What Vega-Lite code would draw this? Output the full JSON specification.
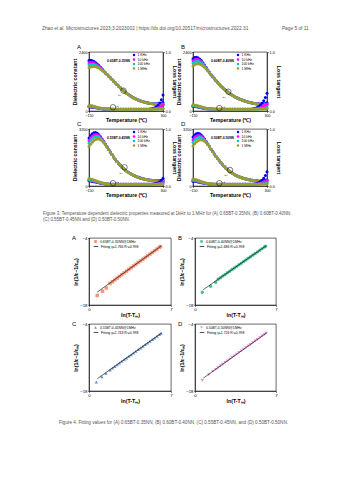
{
"$schema": "https://vega.github.io/schema/vega-lite/v6.json",
"background": "white",
"padding": {"left": 42, "top": 25, "right": 5, "bottom": 5},
"title": {"text": "Zhao et al. Microstructures 2023;3:2023002 | https://dx.doi.org/10.20517/microstructures.2022.31\u2003\u2003\u2003\u2003\u2003\u2003\u2003Page 5 of 11", "anchor": "start", "frame": "group", "dx": -47, "fontSize": 4.8, "color": "#555555", "offset": 13},
"config": {
  "font": "Liberation Sans",
  "view": {"stroke": "#000", "strokeWidth": 0.6},
  "axis": {"labelFontSize": 3.8, "titleFontSize": 5.2, "titleFontWeight": "bold", "tickSize": 1.5, "tickWidth": 0.5, "domainWidth": 0.6, "domainColor": "#000", "tickColor": "#000", "labelColor": "#000", "titleColor": "#000", "labelPadding": 0.5, "titlePadding": 0.8, "grid": false, "labelFont": "Liberation Sans", "titleFont": "Liberation Sans", "labelOverlap": false, "labelFlush": false, "labelSeparation": 0},
  "title": {"fontSize": 6, "fontWeight": "normal", "color": "#000", "font": "Liberation Sans"},
  "legend": {"labelFont": "Liberation Sans", "titleFont": "Liberation Sans", "labelColor": "#000", "titleColor": "#000"}
},
"datasets": {
"fk": [{"k":"a","fq":"1 KHz","r":1},{"k":"b","fq":"10 kHz","r":2},{"k":"c","fq":"100 kHz","r":3},{"k":"d","fq":"1 MHz","r":4},{"k":"e","fq":"1 KHz","r":1},{"k":"f","fq":"10 kHz","r":2},{"k":"g","fq":"100 kHz","r":3},{"k":"h","fq":"1 MHz","r":4}],
"t": [
{"p":"A","T":-150,"a":2050,"b":1960,"c":1870,"d":1760,"e":0.07,"f":0.075,"g":0.082,"h":0.095},
{"p":"A","T":-140,"a":2060,"b":1975,"c":1890,"d":1790,"e":0.068,"f":0.073,"g":0.079,"h":0.092},
{"p":"A","T":-130,"a":2045,"b":1970,"c":1895,"d":1805,"e":0.064,"f":0.069,"g":0.075,"h":0.087},
{"p":"A","T":-120,"a":2010,"b":1950,"c":1885,"d":1810,"e":0.06,"f":0.064,"g":0.069,"h":0.08},
{"p":"A","T":-110,"a":1965,"b":1915,"c":1860,"d":1800,"e":0.055,"f":0.058,"g":0.062,"h":0.072},
{"p":"A","T":-100,"a":1910,"b":1870,"c":1825,"d":1780,"e":0.05,"f":0.053,"g":0.056,"h":0.064},
{"p":"A","T":-90,"a":1850,"b":1815,"c":1780,"d":1745,"e":0.046,"f":0.048,"g":0.05,"h":0.057},
{"p":"A","T":-80,"a":1780,"b":1755,"c":1728,"d":1700,"e":0.042,"f":0.044,"g":0.046,"h":0.051},
{"p":"A","T":-70,"a":1705,"b":1687,"c":1670,"d":1650,"e":0.039,"f":0.04,"g":0.042,"h":0.046},
{"p":"A","T":-60,"a":1628,"b":1615,"c":1605,"d":1595,"e":0.036,"f":0.037,"g":0.038,"h":0.042},
{"p":"A","T":-50,"a":1555,"b":1548,"c":1543,"d":1538,"e":0.034,"f":0.035,"g":0.036,"h":0.039},
{"p":"A","T":-40,"a":1488,"b":1484,"c":1480,"d":1476,"e":0.033,"f":0.033,"g":0.034,"h":0.036},
{"p":"A","T":-30,"a":1420,"b":1416,"c":1413,"d":1410,"e":0.032,"f":0.032,"g":0.033,"h":0.034},
{"p":"A","T":-20,"a":1352,"b":1349,"c":1346,"d":1344,"e":0.031,"f":0.031,"g":0.032,"h":0.033},
{"p":"A","T":-10,"a":1284,"b":1282,"c":1280,"d":1278,"e":0.03,"f":0.03,"g":0.031,"h":0.032},
{"p":"A","T":0,"a":1216,"b":1214,"c":1212,"d":1210,"e":0.03,"f":0.03,"g":0.03,"h":0.031},
{"p":"A","T":10,"a":1148,"b":1146,"c":1144,"d":1142,"e":0.029,"f":0.029,"g":0.03,"h":0.031},
{"p":"A","T":20,"a":1080,"b":1078,"c":1076,"d":1074,"e":0.029,"f":0.029,"g":0.029,"h":0.03},
{"p":"A","T":30,"a":1014,"b":1012,"c":1011,"d":1009,"e":0.028,"f":0.029,"g":0.029,"h":0.03},
{"p":"A","T":40,"a":950,"b":948,"c":947,"d":945,"e":0.028,"f":0.028,"g":0.029,"h":0.03},
{"p":"A","T":50,"a":889,"b":887,"c":886,"d":884,"e":0.028,"f":0.028,"g":0.029,"h":0.03},
{"p":"A","T":60,"a":830,"b":828,"c":827,"d":825,"e":0.028,"f":0.028,"g":0.029,"h":0.03},
{"p":"A","T":70,"a":774,"b":772,"c":771,"d":769,"e":0.028,"f":0.028,"g":0.029,"h":0.03},
{"p":"A","T":80,"a":721,"b":719,"c":718,"d":716,"e":0.028,"f":0.028,"g":0.029,"h":0.03},
{"p":"A","T":90,"a":671,"b":669,"c":668,"d":666,"e":0.028,"f":0.028,"g":0.029,"h":0.03},
{"p":"A","T":100,"a":625,"b":623,"c":622,"d":620,"e":0.028,"f":0.028,"g":0.029,"h":0.03},
{"p":"A","T":110,"a":582,"b":580,"c":579,"d":577,"e":0.028,"f":0.028,"g":0.029,"h":0.03},
{"p":"A","T":120,"a":543,"b":541,"c":540,"d":538,"e":0.028,"f":0.028,"g":0.029,"h":0.03},
{"p":"A","T":130,"a":508,"b":506,"c":505,"d":503,"e":0.028,"f":0.028,"g":0.029,"h":0.03},
{"p":"A","T":140,"a":476,"b":474,"c":473,"d":471,"e":0.028,"f":0.028,"g":0.029,"h":0.03},
{"p":"A","T":150,"a":447,"b":445,"c":444,"d":442,"e":0.028,"f":0.028,"g":0.029,"h":0.03},
{"p":"A","T":160,"a":421,"b":419,"c":418,"d":416,"e":0.028,"f":0.028,"g":0.029,"h":0.03},
{"p":"A","T":170,"a":398,"b":396,"c":395,"d":393,"e":0.028,"f":0.028,"g":0.029,"h":0.03},
{"p":"A","T":180,"a":377,"b":375,"c":374,"d":372,"e":0.029,"f":0.028,"g":0.029,"h":0.03},
{"p":"A","T":190,"a":358,"b":356,"c":355,"d":353,"e":0.029,"f":0.029,"g":0.029,"h":0.03},
{"p":"A","T":200,"a":343,"b":340,"c":339,"d":337,"e":0.03,"f":0.029,"g":0.029,"h":0.03},
{"p":"A","T":210,"a":330,"b":326,"c":325,"d":323,"e":0.031,"f":0.03,"g":0.03,"h":0.031},
{"p":"A","T":220,"a":318,"b":314,"c":312,"d":310,"e":0.033,"f":0.031,"g":0.03,"h":0.031},
{"p":"A","T":230,"a":309,"b":303,"c":301,"d":299,"e":0.037,"f":0.032,"g":0.031,"h":0.031},
{"p":"A","T":240,"a":302,"b":294,"c":291,"d":289,"e":0.044,"f":0.034,"g":0.031,"h":0.031},
{"p":"A","T":250,"a":298,"b":287,"c":283,"d":281,"e":0.055,"f":0.037,"g":0.032,"h":0.031},
{"p":"A","T":260,"a":297,"b":282,"c":276,"d":274,"e":0.072,"f":0.042,"g":0.034,"h":0.032},
{"p":"A","T":270,"a":300,"b":279,"c":271,"d":268,"e":0.098,"f":0.05,"g":0.036,"h":0.032},
{"p":"A","T":280,"a":308,"b":278,"c":266,"d":263,"e":0.135,"f":0.062,"g":0.039,"h":0.033},
{"p":"A","T":290,"a":322,"b":280,"c":263,"d":259,"e":0.19,"f":0.08,"g":0.043,"h":0.034},
{"p":"A","T":300,"a":345,"b":285,"c":261,"d":256,"e":0.27,"f":0.105,"g":0.048,"h":0.035},
{"p":"B","T":-150,"a":2130,"b":2040,"c":1950,"d":1830,"e":0.08,"f":0.086,"g":0.093,"h":0.106},
{"p":"B","T":-140,"a":2175,"b":2085,"c":1995,"d":1880,"e":0.077,"f":0.083,"g":0.09,"h":0.102},
{"p":"B","T":-130,"a":2190,"b":2105,"c":2020,"d":1910,"e":0.072,"f":0.078,"g":0.085,"h":0.096},
{"p":"B","T":-120,"a":2170,"b":2095,"c":2020,"d":1920,"e":0.066,"f":0.071,"g":0.077,"h":0.088},
{"p":"B","T":-110,"a":2120,"b":2060,"c":1995,"d":1910,"e":0.06,"f":0.064,"g":0.069,"h":0.079},
{"p":"B","T":-100,"a":2050,"b":2005,"c":1955,"d":1880,"e":0.054,"f":0.057,"g":0.061,"h":0.07},
{"p":"B","T":-90,"a":1965,"b":1935,"c":1900,"d":1835,"e":0.049,"f":0.051,"g":0.054,"h":0.062},
{"p":"B","T":-80,"a":1870,"b":1850,"c":1828,"d":1775,"e":0.044,"f":0.046,"g":0.048,"h":0.055},
{"p":"B","T":-70,"a":1770,"b":1757,"c":1743,"d":1705,"e":0.04,"f":0.042,"g":0.043,"h":0.049},
{"p":"B","T":-60,"a":1668,"b":1660,"c":1652,"d":1630,"e":0.037,"f":0.038,"g":0.039,"h":0.044},
{"p":"B","T":-50,"a":1568,"b":1563,"c":1558,"d":1550,"e":0.035,"f":0.035,"g":0.036,"h":0.04},
{"p":"B","T":-40,"a":1477,"b":1474,"c":1471,"d":1468,"e":0.033,"f":0.033,"g":0.034,"h":0.037},
{"p":"B","T":-30,"a":1393,"b":1391,"c":1389,"d":1387,"e":0.032,"f":0.032,"g":0.033,"h":0.035},
{"p":"B","T":-20,"a":1313,"b":1311,"c":1310,"d":1308,"e":0.031,"f":0.031,"g":0.032,"h":0.033},
{"p":"B","T":-10,"a":1235,"b":1233,"c":1232,"d":1230,"e":0.03,"f":0.03,"g":0.031,"h":0.032},
{"p":"B","T":0,"a":1158,"b":1156,"c":1155,"d":1153,"e":0.029,"f":0.029,"g":0.03,"h":0.031},
{"p":"B","T":10,"a":1085,"b":1083,"c":1082,"d":1080,"e":0.029,"f":0.029,"g":0.03,"h":0.031},
{"p":"B","T":20,"a":1015,"b":1013,"c":1012,"d":1010,"e":0.029,"f":0.029,"g":0.03,"h":0.031},
{"p":"B","T":30,"a":950,"b":948,"c":947,"d":945,"e":0.029,"f":0.029,"g":0.03,"h":0.031},
{"p":"B","T":40,"a":890,"b":888,"c":887,"d":885,"e":0.029,"f":0.029,"g":0.03,"h":0.031},
{"p":"B","T":50,"a":832,"b":830,"c":829,"d":827,"e":0.029,"f":0.029,"g":0.03,"h":0.031},
{"p":"B","T":60,"a":778,"b":776,"c":775,"d":773,"e":0.029,"f":0.029,"g":0.03,"h":0.031},
{"p":"B","T":70,"a":728,"b":726,"c":725,"d":723,"e":0.029,"f":0.029,"g":0.03,"h":0.031},
{"p":"B","T":80,"a":682,"b":680,"c":679,"d":677,"e":0.029,"f":0.029,"g":0.03,"h":0.031},
{"p":"B","T":90,"a":640,"b":638,"c":637,"d":635,"e":0.029,"f":0.029,"g":0.03,"h":0.031},
{"p":"B","T":100,"a":600,"b":598,"c":597,"d":595,"e":0.029,"f":0.029,"g":0.03,"h":0.031},
{"p":"B","T":110,"a":563,"b":561,"c":560,"d":558,"e":0.029,"f":0.029,"g":0.03,"h":0.031},
{"p":"B","T":120,"a":529,"b":527,"c":526,"d":524,"e":0.029,"f":0.029,"g":0.03,"h":0.031},
{"p":"B","T":130,"a":498,"b":496,"c":495,"d":493,"e":0.029,"f":0.029,"g":0.03,"h":0.031},
{"p":"B","T":140,"a":469,"b":467,"c":466,"d":464,"e":0.029,"f":0.029,"g":0.03,"h":0.031},
{"p":"B","T":150,"a":443,"b":441,"c":440,"d":438,"e":0.029,"f":0.029,"g":0.03,"h":0.031},
{"p":"B","T":160,"a":419,"b":417,"c":416,"d":414,"e":0.029,"f":0.029,"g":0.03,"h":0.031},
{"p":"B","T":170,"a":397,"b":395,"c":394,"d":392,"e":0.029,"f":0.029,"g":0.03,"h":0.031},
{"p":"B","T":180,"a":377,"b":375,"c":374,"d":372,"e":0.029,"f":0.029,"g":0.03,"h":0.031},
{"p":"B","T":190,"a":359,"b":357,"c":356,"d":354,"e":0.03,"f":0.029,"g":0.03,"h":0.031},
{"p":"B","T":200,"a":343,"b":340,"c":339,"d":337,"e":0.031,"f":0.03,"g":0.03,"h":0.031},
{"p":"B","T":210,"a":328,"b":325,"c":324,"d":322,"e":0.034,"f":0.031,"g":0.03,"h":0.031},
{"p":"B","T":220,"a":315,"b":311,"c":310,"d":308,"e":0.039,"f":0.033,"g":0.031,"h":0.031},
{"p":"B","T":230,"a":304,"b":298,"c":297,"d":295,"e":0.047,"f":0.035,"g":0.032,"h":0.031},
{"p":"B","T":240,"a":295,"b":287,"c":285,"d":283,"e":0.059,"f":0.039,"g":0.033,"h":0.032},
{"p":"B","T":250,"a":290,"b":278,"c":275,"d":273,"e":0.076,"f":0.045,"g":0.035,"h":0.032},
{"p":"B","T":260,"a":288,"b":271,"c":266,"d":264,"e":0.1,"f":0.053,"g":0.037,"h":0.033},
{"p":"B","T":270,"a":290,"b":266,"c":259,"d":256,"e":0.132,"f":0.064,"g":0.04,"h":0.034},
{"p":"B","T":280,"a":297,"b":263,"c":253,"d":250,"e":0.175,"f":0.078,"g":0.044,"h":0.035},
{"p":"B","T":290,"a":310,"b":263,"c":249,"d":245,"e":0.23,"f":0.097,"g":0.049,"h":0.036},
{"p":"B","T":300,"a":332,"b":266,"c":246,"d":241,"e":0.3,"f":0.12,"g":0.055,"h":0.038},
{"p":"C","T":-150,"a":2700,"b":2560,"c":2420,"d":2220,"e":0.09,"f":0.1,"g":0.112,"h":0.13},
{"p":"C","T":-140,"a":2830,"b":2690,"c":2550,"d":2350,"e":0.086,"f":0.096,"g":0.107,"h":0.125},
{"p":"C","T":-130,"a":2930,"b":2790,"c":2660,"d":2460,"e":0.081,"f":0.09,"g":0.1,"h":0.117},
{"p":"C","T":-120,"a":2990,"b":2860,"c":2730,"d":2550,"e":0.075,"f":0.083,"g":0.092,"h":0.107},
{"p":"C","T":-110,"a":3000,"b":2890,"c":2770,"d":2610,"e":0.068,"f":0.075,"g":0.083,"h":0.096},
{"p":"C","T":-100,"a":2960,"b":2875,"c":2780,"d":2640,"e":0.061,"f":0.067,"g":0.073,"h":0.085},
{"p":"C","T":-90,"a":2880,"b":2820,"c":2750,"d":2640,"e":0.055,"f":0.06,"g":0.065,"h":0.075},
{"p":"C","T":-80,"a":2770,"b":2730,"c":2680,"d":2600,"e":0.049,"f":0.053,"g":0.057,"h":0.065},
{"p":"C","T":-70,"a":2640,"b":2615,"c":2585,"d":2530,"e":0.044,"f":0.047,"g":0.05,"h":0.057},
{"p":"C","T":-60,"a":2500,"b":2485,"c":2468,"d":2435,"e":0.04,"f":0.042,"g":0.044,"h":0.05},
{"p":"C","T":-50,"a":2350,"b":2342,"c":2333,"d":2315,"e":0.037,"f":0.038,"g":0.04,"h":0.044},
{"p":"C","T":-40,"a":2200,"b":2195,"c":2190,"d":2180,"e":0.034,"f":0.035,"g":0.036,"h":0.04},
{"p":"C","T":-30,"a":2050,"b":2047,"c":2044,"d":2040,"e":0.032,"f":0.033,"g":0.034,"h":0.036},
{"p":"C","T":-20,"a":1905,"b":1903,"c":1901,"d":1899,"e":0.031,"f":0.031,"g":0.032,"h":0.034},
{"p":"C","T":-10,"a":1765,"b":1763,"c":1762,"d":1760,"e":0.03,"f":0.03,"g":0.031,"h":0.032},
{"p":"C","T":0,"a":1630,"b":1628,"c":1627,"d":1625,"e":0.029,"f":0.029,"g":0.03,"h":0.031},
{"p":"C","T":10,"a":1502,"b":1500,"c":1499,"d":1497,"e":0.029,"f":0.029,"g":0.03,"h":0.031},
{"p":"C","T":20,"a":1382,"b":1380,"c":1379,"d":1377,"e":0.029,"f":0.029,"g":0.03,"h":0.031},
{"p":"C","T":30,"a":1270,"b":1268,"c":1267,"d":1265,"e":0.029,"f":0.029,"g":0.03,"h":0.031},
{"p":"C","T":40,"a":1166,"b":1164,"c":1163,"d":1161,"e":0.029,"f":0.029,"g":0.03,"h":0.031},
{"p":"C","T":50,"a":1070,"b":1068,"c":1067,"d":1065,"e":0.029,"f":0.029,"g":0.03,"h":0.031},
{"p":"C","T":60,"a":982,"b":980,"c":979,"d":977,"e":0.029,"f":0.029,"g":0.03,"h":0.031},
{"p":"C","T":70,"a":902,"b":900,"c":899,"d":897,"e":0.029,"f":0.029,"g":0.03,"h":0.031},
{"p":"C","T":80,"a":830,"b":828,"c":827,"d":825,"e":0.029,"f":0.029,"g":0.03,"h":0.031},
{"p":"C","T":90,"a":765,"b":763,"c":762,"d":760,"e":0.029,"f":0.029,"g":0.03,"h":0.031},
{"p":"C","T":100,"a":706,"b":704,"c":703,"d":701,"e":0.029,"f":0.029,"g":0.03,"h":0.031},
{"p":"C","T":110,"a":653,"b":651,"c":650,"d":648,"e":0.029,"f":0.029,"g":0.03,"h":0.031},
{"p":"C","T":120,"a":605,"b":603,"c":602,"d":600,"e":0.029,"f":0.029,"g":0.03,"h":0.031},
{"p":"C","T":130,"a":562,"b":560,"c":559,"d":557,"e":0.029,"f":0.029,"g":0.03,"h":0.031},
{"p":"C","T":140,"a":523,"b":521,"c":520,"d":518,"e":0.029,"f":0.029,"g":0.03,"h":0.031},
{"p":"C","T":150,"a":488,"b":486,"c":485,"d":483,"e":0.029,"f":0.029,"g":0.03,"h":0.031},
{"p":"C","T":160,"a":457,"b":455,"c":454,"d":452,"e":0.029,"f":0.029,"g":0.03,"h":0.031},
{"p":"C","T":170,"a":429,"b":427,"c":426,"d":424,"e":0.029,"f":0.029,"g":0.03,"h":0.031},
{"p":"C","T":180,"a":404,"b":402,"c":401,"d":399,"e":0.029,"f":0.029,"g":0.03,"h":0.031},
{"p":"C","T":190,"a":382,"b":380,"c":379,"d":377,"e":0.029,"f":0.029,"g":0.03,"h":0.031},
{"p":"C","T":200,"a":362,"b":360,"c":359,"d":357,"e":0.029,"f":0.029,"g":0.03,"h":0.031},
{"p":"C","T":210,"a":345,"b":342,"c":341,"d":339,"e":0.029,"f":0.029,"g":0.03,"h":0.031},
{"p":"C","T":220,"a":330,"b":326,"c":325,"d":323,"e":0.03,"f":0.029,"g":0.03,"h":0.031},
{"p":"C","T":230,"a":318,"b":313,"c":311,"d":309,"e":0.031,"f":0.03,"g":0.03,"h":0.031},
{"p":"C","T":240,"a":308,"b":301,"c":299,"d":297,"e":0.034,"f":0.031,"g":0.031,"h":0.031},
{"p":"C","T":250,"a":301,"b":291,"c":288,"d":286,"e":0.039,"f":0.033,"g":0.031,"h":0.031},
{"p":"C","T":260,"a":297,"b":283,"c":279,"d":277,"e":0.047,"f":0.036,"g":0.032,"h":0.032},
{"p":"C","T":270,"a":296,"b":277,"c":271,"d":269,"e":0.059,"f":0.04,"g":0.033,"h":0.032},
{"p":"C","T":280,"a":299,"b":273,"c":265,"d":262,"e":0.076,"f":0.046,"g":0.035,"h":0.033},
{"p":"C","T":290,"a":306,"b":271,"c":260,"d":256,"e":0.1,"f":0.054,"g":0.037,"h":0.033},
{"p":"C","T":300,"a":318,"b":271,"c":256,"d":251,"e":0.135,"f":0.065,"g":0.04,"h":0.034},
{"p":"D","T":-150,"a":2750,"b":2600,"c":2450,"d":2250,"e":0.085,"f":0.095,"g":0.106,"h":0.122},
{"p":"D","T":-140,"a":2870,"b":2720,"c":2580,"d":2370,"e":0.082,"f":0.091,"g":0.101,"h":0.117},
{"p":"D","T":-130,"a":2940,"b":2800,"c":2665,"d":2470,"e":0.077,"f":0.086,"g":0.095,"h":0.11},
{"p":"D","T":-120,"a":2960,"b":2840,"c":2715,"d":2540,"e":0.071,"f":0.079,"g":0.087,"h":0.1},
{"p":"D","T":-110,"a":2930,"b":2835,"c":2730,"d":2580,"e":0.065,"f":0.071,"g":0.078,"h":0.09},
{"p":"D","T":-100,"a":2860,"b":2790,"c":2710,"d":2590,"e":0.058,"f":0.064,"g":0.069,"h":0.08},
{"p":"D","T":-90,"a":2760,"b":2710,"c":2655,"d":2565,"e":0.052,"f":0.057,"g":0.061,"h":0.07},
{"p":"D","T":-80,"a":2640,"b":2608,"c":2575,"d":2510,"e":0.047,"f":0.05,"g":0.054,"h":0.062},
{"p":"D","T":-70,"a":2505,"b":2487,"c":2468,"d":2425,"e":0.042,"f":0.045,"g":0.048,"h":0.054},
{"p":"D","T":-60,"a":2362,"b":2352,"c":2342,"d":2318,"e":0.039,"f":0.041,"g":0.043,"h":0.048},
{"p":"D","T":-50,"a":2215,"b":2210,"c":2205,"d":2193,"e":0.036,"f":0.037,"g":0.039,"h":0.043},
{"p":"D","T":-40,"a":2070,"b":2067,"c":2064,"d":2058,"e":0.034,"f":0.035,"g":0.036,"h":0.039},
{"p":"D","T":-30,"a":1930,"b":1928,"c":1926,"d":1922,"e":0.032,"f":0.033,"g":0.034,"h":0.036},
{"p":"D","T":-20,"a":1795,"b":1793,"c":1792,"d":1789,"e":0.031,"f":0.031,"g":0.032,"h":0.034},
{"p":"D","T":-10,"a":1665,"b":1663,"c":1662,"d":1660,"e":0.03,"f":0.03,"g":0.031,"h":0.032},
{"p":"D","T":0,"a":1540,"b":1538,"c":1537,"d":1535,"e":0.029,"f":0.029,"g":0.03,"h":0.031},
{"p":"D","T":10,"a":1420,"b":1418,"c":1417,"d":1415,"e":0.029,"f":0.029,"g":0.03,"h":0.031},
{"p":"D","T":20,"a":1307,"b":1305,"c":1304,"d":1302,"e":0.029,"f":0.029,"g":0.03,"h":0.031},
{"p":"D","T":30,"a":1200,"b":1198,"c":1197,"d":1195,"e":0.029,"f":0.029,"g":0.03,"h":0.031},
{"p":"D","T":40,"a":1100,"b":1098,"c":1097,"d":1095,"e":0.029,"f":0.029,"g":0.03,"h":0.031},
{"p":"D","T":50,"a":1008,"b":1006,"c":1005,"d":1003,"e":0.029,"f":0.029,"g":0.03,"h":0.031},
{"p":"D","T":60,"a":924,"b":922,"c":921,"d":919,"e":0.029,"f":0.029,"g":0.03,"h":0.031},
{"p":"D","T":70,"a":847,"b":845,"c":844,"d":842,"e":0.029,"f":0.029,"g":0.03,"h":0.031},
{"p":"D","T":80,"a":778,"b":776,"c":775,"d":773,"e":0.029,"f":0.029,"g":0.03,"h":0.031},
{"p":"D","T":90,"a":716,"b":714,"c":713,"d":711,"e":0.029,"f":0.029,"g":0.03,"h":0.031},
{"p":"D","T":100,"a":660,"b":658,"c":657,"d":655,"e":0.029,"f":0.029,"g":0.03,"h":0.031},
{"p":"D","T":110,"a":610,"b":608,"c":607,"d":605,"e":0.029,"f":0.029,"g":0.03,"h":0.031},
{"p":"D","T":120,"a":565,"b":563,"c":562,"d":560,"e":0.029,"f":0.029,"g":0.03,"h":0.031},
{"p":"D","T":130,"a":525,"b":523,"c":522,"d":520,"e":0.029,"f":0.029,"g":0.03,"h":0.031},
{"p":"D","T":140,"a":489,"b":487,"c":486,"d":484,"e":0.029,"f":0.029,"g":0.03,"h":0.031},
{"p":"D","T":150,"a":457,"b":455,"c":454,"d":452,"e":0.029,"f":0.029,"g":0.03,"h":0.031},
{"p":"D","T":160,"a":428,"b":426,"c":425,"d":423,"e":0.029,"f":0.029,"g":0.03,"h":0.031},
{"p":"D","T":170,"a":402,"b":400,"c":399,"d":397,"e":0.029,"f":0.029,"g":0.03,"h":0.031},
{"p":"D","T":180,"a":379,"b":377,"c":376,"d":374,"e":0.029,"f":0.029,"g":0.03,"h":0.031},
{"p":"D","T":190,"a":358,"b":356,"c":355,"d":353,"e":0.029,"f":0.029,"g":0.03,"h":0.031},
{"p":"D","T":200,"a":340,"b":338,"c":337,"d":335,"e":0.029,"f":0.029,"g":0.03,"h":0.031},
{"p":"D","T":210,"a":324,"b":321,"c":320,"d":318,"e":0.031,"f":0.03,"g":0.03,"h":0.031},
{"p":"D","T":220,"a":310,"b":306,"c":305,"d":303,"e":0.034,"f":0.031,"g":0.031,"h":0.031},
{"p":"D","T":230,"a":299,"b":293,"c":292,"d":290,"e":0.039,"f":0.033,"g":0.031,"h":0.031},
{"p":"D","T":240,"a":291,"b":282,"c":280,"d":278,"e":0.047,"f":0.036,"g":0.032,"h":0.032},
{"p":"D","T":250,"a":287,"b":273,"c":269,"d":267,"e":0.06,"f":0.04,"g":0.033,"h":0.032},
{"p":"D","T":260,"a":287,"b":266,"c":260,"d":258,"e":0.078,"f":0.047,"g":0.035,"h":0.033},
{"p":"D","T":270,"a":291,"b":261,"c":252,"d":249,"e":0.103,"f":0.056,"g":0.037,"h":0.033},
{"p":"D","T":280,"a":300,"b":259,"c":246,"d":242,"e":0.138,"f":0.068,"g":0.04,"h":0.034},
{"p":"D","T":290,"a":316,"b":260,"c":242,"d":236,"e":0.185,"f":0.083,"g":0.044,"h":0.035},
{"p":"D","T":300,"a":340,"b":264,"c":239,"d":231,"e":0.25,"f":0.102,"g":0.049,"h":0.036}
],
"n": [
{"p":"A","x":0.7,"y":-16.0},{"p":"A","x":1.15,"y":-15.1},{"p":"A","x":1.48,"y":-14.45},{"p":"A","x":1.8,"y":-13.5},{"p":"A","x":2.0,"y":-13.15},{"p":"A","x":2.2,"y":-12.78},{"p":"A","x":2.4,"y":-12.4},{"p":"A","x":2.6,"y":-12.02},{"p":"A","x":2.8,"y":-11.65},{"p":"A","x":3.0,"y":-11.28},{"p":"A","x":3.2,"y":-10.92},{"p":"A","x":3.4,"y":-10.56},{"p":"A","x":3.6,"y":-10.2},{"p":"A","x":3.8,"y":-9.84},{"p":"A","x":4.0,"y":-9.49},{"p":"A","x":4.2,"y":-9.13},{"p":"A","x":4.4,"y":-8.78},{"p":"A","x":4.6,"y":-8.43},{"p":"A","x":4.8,"y":-8.07},{"p":"A","x":5.0,"y":-7.72},{"p":"A","x":5.2,"y":-7.37},{"p":"A","x":5.4,"y":-7.01},{"p":"A","x":5.6,"y":-6.66},{"p":"A","x":5.8,"y":-6.31},{"p":"A","x":6.0,"y":-5.95},{"p":"A","x":6.1,"y":-5.78},
{"p":"B","x":0.63,"y":-15.35},{"p":"B","x":1.35,"y":-14.1},{"p":"B","x":1.79,"y":-13.26},{"p":"B","x":2.0,"y":-12.63},{"p":"B","x":2.2,"y":-12.29},{"p":"B","x":2.4,"y":-11.95},{"p":"B","x":2.6,"y":-11.62},{"p":"B","x":2.8,"y":-11.28},{"p":"B","x":3.0,"y":-10.94},{"p":"B","x":3.2,"y":-10.6},{"p":"B","x":3.4,"y":-10.27},{"p":"B","x":3.6,"y":-9.93},{"p":"B","x":3.8,"y":-9.59},{"p":"B","x":4.0,"y":-9.26},{"p":"B","x":4.2,"y":-8.92},{"p":"B","x":4.4,"y":-8.58},{"p":"B","x":4.6,"y":-8.24},{"p":"B","x":4.8,"y":-7.91},{"p":"B","x":5.0,"y":-7.57},{"p":"B","x":5.2,"y":-7.23},{"p":"B","x":5.4,"y":-6.9},{"p":"B","x":5.6,"y":-6.56},{"p":"B","x":5.8,"y":-6.22},{"p":"B","x":6.0,"y":-5.88},{"p":"B","x":6.1,"y":-5.72},
{"p":"C","x":0.63,"y":-16.1},{"p":"C","x":1.1,"y":-15.0},{"p":"C","x":1.45,"y":-14.3},{"p":"C","x":1.8,"y":-13.6},{"p":"C","x":2.0,"y":-13.22},{"p":"C","x":2.2,"y":-12.86},{"p":"C","x":2.4,"y":-12.5},{"p":"C","x":2.6,"y":-12.14},{"p":"C","x":2.8,"y":-11.79},{"p":"C","x":3.0,"y":-11.44},{"p":"C","x":3.2,"y":-11.09},{"p":"C","x":3.4,"y":-10.74},{"p":"C","x":3.6,"y":-10.4},{"p":"C","x":3.8,"y":-10.05},{"p":"C","x":4.0,"y":-9.7},{"p":"C","x":4.2,"y":-9.35},{"p":"C","x":4.4,"y":-9.0},{"p":"C","x":4.6,"y":-8.65},{"p":"C","x":4.8,"y":-8.3},{"p":"C","x":5.0,"y":-7.96},{"p":"C","x":5.2,"y":-7.61},{"p":"C","x":5.4,"y":-7.26},{"p":"C","x":5.6,"y":-6.91},{"p":"C","x":5.8,"y":-6.56},{"p":"C","x":6.0,"y":-6.21},{"p":"C","x":6.15,"y":-5.95},
{"p":"D","x":0.63,"y":-15.8},{"p":"D","x":1.2,"y":-14.6},{"p":"D","x":1.55,"y":-13.9},{"p":"D","x":1.8,"y":-13.5},{"p":"D","x":2.0,"y":-13.12},{"p":"D","x":2.2,"y":-12.76},{"p":"D","x":2.4,"y":-12.4},{"p":"D","x":2.6,"y":-12.05},{"p":"D","x":2.8,"y":-11.71},{"p":"D","x":3.0,"y":-11.36},{"p":"D","x":3.2,"y":-11.02},{"p":"D","x":3.4,"y":-10.67},{"p":"D","x":3.6,"y":-10.33},{"p":"D","x":3.8,"y":-9.98},{"p":"D","x":4.0,"y":-9.64},{"p":"D","x":4.2,"y":-9.29},{"p":"D","x":4.4,"y":-8.95},{"p":"D","x":4.6,"y":-8.6},{"p":"D","x":4.8,"y":-8.26},{"p":"D","x":5.0,"y":-7.91},{"p":"D","x":5.2,"y":-7.57},{"p":"D","x":5.4,"y":-7.22},{"p":"D","x":5.6,"y":-6.87},{"p":"D","x":5.8,"y":-6.53},{"p":"D","x":6.0,"y":-6.18},{"p":"D","x":6.15,"y":-5.93}
],
"fit": [
{"p":"A","x":0.7,"y":-15.31},{"p":"A","x":6.15,"y":-5.69},
{"p":"B","x":0.72,"y":-14.79},{"p":"B","x":6.15,"y":-5.63},
{"p":"C","x":0.71,"y":-15.43},{"p":"C","x":6.2,"y":-5.86},
{"p":"D","x":0.72,"y":-15.3},{"p":"D","x":6.2,"y":-5.84}
]
},
"spacing": 12,
"resolve": {"scale": {"color": "independent", "fill": "independent", "stroke": "independent"}, "legend": {"color": "independent", "fill": "independent", "stroke": "independent"}},
"vconcat": [
{
 "columns": 2,
 "bounds": "flush",
 "spacing": {"row": 18, "column": 30},
 "title": {"text": ["Figure 3. Temperature dependent dielectric properties measured at 1kHz to 1 MHz for (A) 0.65BT-0.35NN, (B) 0.60BT-0.40NN,", "(C) 0.55BT-0.45NN and (D) 0.50BT-0.50NN."], "orient": "bottom", "anchor": "start", "frame": "group", "dx": -46, "offset": 13, "fontSize": 4.45, "color": "#555555", "lineHeight": 6},
 "resolve": {"scale": {"color": "independent"}, "legend": {"color": "independent"}},
 "concat": [
  {"width": 74, "height": 59,
   "title": {"text": "A", "anchor": "start", "frame": "group", "dx": -12, "offset": 0},
   "resolve": {"scale": {"y": "independent"}},
   "layer": [
    {"layer": [
     {"data": {"name": "t"}, "transform": [{"filter": "datum.p==='A'"}, {"fold": ["a","b","c","d"], "as": ["k","v"]}, {"lookup": "k", "from": {"data": {"name": "fk"}, "key": "k", "fields": ["fq","r"]}}],
      "mark": {"type": "point", "filled": true, "size": 9, "opacity": 1, "strokeWidth": 0},
      "encoding": {
       "x": {"field": "T", "type": "quantitative", "scale": {"domain": [-150,300], "nice": false}, "axis": {"values": [-150,-100,-50,0,50,100,150,200,250,300], "title": "Temperature (℃)", "labelFontSize": 3.6, "labelOverlap": false}},
       "y": {"field": "v", "type": "quantitative", "scale": {"domain": [0,2400], "nice": false}, "axis": {"orient": "left", "values": [0,400,800,1200,1600,2000,2400], "format": "d", "title": "Dielectric constant", "labelOverlap": false}},
       "color": {"field": "fq", "type": "nominal", "title": "0.65BT-0.35NN", "scale": {"domain": ["1 KHz","10 kHz","100 kHz","1 MHz"], "range": ["#0000ff","#ff00ff","#00c8c8","#9c9c30"]}, "legend": {"orient": "none", "legendX": 18, "legendY": 1, "titleOrient": "left", "titleFontSize": 3.3, "titleFontWeight": "bold", "labelFontSize": 3.4, "symbolSize": 6, "rowPadding": 0.5, "titlePadding": 2, "labelOffset": 1.5, "padding": 0}},
       "order": {"field": "r", "type": "quantitative"}
      }},
     {"data": {"values": [{"T": 60, "v": 826}]}, "mark": {"type": "point", "shape": "circle", "filled": false, "size": 30, "stroke": "#000", "strokeWidth": 0.5, "opacity": 1}, "encoding": {"x": {"field": "T", "type": "quantitative"}, "y": {"field": "v", "type": "quantitative"}}},
     {"data": {"values": [{"T": 36, "v": 690, "s": "←"}]}, "mark": {"type": "text", "fontSize": 5, "color": "#000"}, "encoding": {"x": {"field": "T", "type": "quantitative"}, "y": {"field": "v", "type": "quantitative"}, "text": {"field": "s"}}}
    ]},
    {"layer": [
     {"data": {"name": "t"}, "transform": [{"filter": "datum.p==='A'"}, {"fold": ["e","f","g","h"], "as": ["k","v"]}, {"lookup": "k", "from": {"data": {"name": "fk"}, "key": "k", "fields": ["fq","r"]}}],
      "mark": {"type": "point", "filled": true, "size": 9, "opacity": 1, "strokeWidth": 0},
      "encoding": {
       "x": {"field": "T", "type": "quantitative"},
       "y": {"field": "v", "type": "quantitative", "scale": {"domain": [0,1], "nice": false}, "axis": {"orient": "right", "values": [0,0.2,0.4,0.6,0.8,1], "format": ".1f", "title": "Loss tangent", "labelOverlap": false}},
       "color": {"field": "fq", "type": "nominal", "title": "0.65BT-0.35NN"},
       "order": {"field": "r", "type": "quantitative"}
      }},
     {"data": {"values": [{"T": -4, "v": 0.063}]}, "mark": {"type": "point", "shape": "circle", "filled": false, "size": 30, "stroke": "#000", "strokeWidth": 0.5, "opacity": 1}, "encoding": {"x": {"field": "T", "type": "quantitative"}, "y": {"field": "v", "type": "quantitative"}}},
     {"data": {"values": [{"T": 20, "v": 0.1, "s": "→"}]}, "mark": {"type": "text", "fontSize": 5, "color": "#000"}, "encoding": {"x": {"field": "T", "type": "quantitative"}, "y": {"field": "v", "type": "quantitative"}, "text": {"field": "s"}}}
    ]}
   ]},
  {"width": 74, "height": 59,
   "title": {"text": "B", "anchor": "start", "frame": "group", "dx": -12, "offset": 0},
   "resolve": {"scale": {"y": "independent"}},
   "layer": [
    {"layer": [
     {"data": {"name": "t"}, "transform": [{"filter": "datum.p==='B'"}, {"fold": ["a","b","c","d"], "as": ["k","v"]}, {"lookup": "k", "from": {"data": {"name": "fk"}, "key": "k", "fields": ["fq","r"]}}],
      "mark": {"type": "point", "filled": true, "size": 9, "opacity": 1, "strokeWidth": 0},
      "encoding": {
       "x": {"field": "T", "type": "quantitative", "scale": {"domain": [-150,300], "nice": false}, "axis": {"values": [-150,-100,-50,0,50,100,150,200,250,300], "title": "Temperature (℃)", "labelFontSize": 3.6, "labelOverlap": false}},
       "y": {"field": "v", "type": "quantitative", "scale": {"domain": [0,2400], "nice": false}, "axis": {"orient": "left", "values": [0,400,800,1200,1600,2000,2400], "format": "d", "title": "Dielectric constant", "labelOverlap": false}},
       "color": {"field": "fq", "type": "nominal", "title": "0.60BT-0.40NN", "scale": {"domain": ["1 KHz","10 kHz","100 kHz","1 MHz"], "range": ["#0000ff","#ff00ff","#00c8c8","#9c9c30"]}, "legend": {"orient": "none", "legendX": 18, "legendY": 1, "titleOrient": "left", "titleFontSize": 3.3, "titleFontWeight": "bold", "labelFontSize": 3.4, "symbolSize": 6, "rowPadding": 0.5, "titlePadding": 2, "labelOffset": 1.5, "padding": 0}},
       "order": {"field": "r", "type": "quantitative"}
      }},
     {"data": {"values": [{"T": 65, "v": 785}]}, "mark": {"type": "point", "shape": "circle", "filled": false, "size": 30, "stroke": "#000", "strokeWidth": 0.5, "opacity": 1}, "encoding": {"x": {"field": "T", "type": "quantitative"}, "y": {"field": "v", "type": "quantitative"}}},
     {"data": {"values": [{"T": 38, "v": 622, "s": "←"}]}, "mark": {"type": "text", "fontSize": 5, "color": "#000"}, "encoding": {"x": {"field": "T", "type": "quantitative"}, "y": {"field": "v", "type": "quantitative"}, "text": {"field": "s"}}}
    ]},
    {"layer": [
     {"data": {"name": "t"}, "transform": [{"filter": "datum.p==='B'"}, {"fold": ["e","f","g","h"], "as": ["k","v"]}, {"lookup": "k", "from": {"data": {"name": "fk"}, "key": "k", "fields": ["fq","r"]}}],
      "mark": {"type": "point", "filled": true, "size": 9, "opacity": 1, "strokeWidth": 0},
      "encoding": {
       "x": {"field": "T", "type": "quantitative"},
       "y": {"field": "v", "type": "quantitative", "scale": {"domain": [0,1], "nice": false}, "axis": {"orient": "right", "values": [0,0.2,0.4,0.6,0.8,1], "format": ".1f", "title": "Loss tangent", "labelOverlap": false}},
       "color": {"field": "fq", "type": "nominal", "title": "0.60BT-0.40NN"},
       "order": {"field": "r", "type": "quantitative"}
      }},
     {"data": {"values": [{"T": 10, "v": 0.05}]}, "mark": {"type": "point", "shape": "circle", "filled": false, "size": 30, "stroke": "#000", "strokeWidth": 0.5, "opacity": 1}, "encoding": {"x": {"field": "T", "type": "quantitative"}, "y": {"field": "v", "type": "quantitative"}}},
     {"data": {"values": [{"T": 34, "v": 0.09, "s": "→"}]}, "mark": {"type": "text", "fontSize": 5, "color": "#000"}, "encoding": {"x": {"field": "T", "type": "quantitative"}, "y": {"field": "v", "type": "quantitative"}, "text": {"field": "s"}}}
    ]}
   ]},
  {"width": 74, "height": 57,
   "title": {"text": "C", "anchor": "start", "frame": "group", "dx": -12, "offset": 0},
   "resolve": {"scale": {"y": "independent"}},
   "layer": [
    {"layer": [
     {"data": {"name": "t"}, "transform": [{"filter": "datum.p==='C'"}, {"fold": ["a","b","c","d"], "as": ["k","v"]}, {"lookup": "k", "from": {"data": {"name": "fk"}, "key": "k", "fields": ["fq","r"]}}],
      "mark": {"type": "point", "filled": true, "size": 9, "opacity": 1, "strokeWidth": 0},
      "encoding": {
       "x": {"field": "T", "type": "quantitative", "scale": {"domain": [-150,300], "nice": false}, "axis": {"values": [-150,-100,-50,0,50,100,150,200,250,300], "title": "Temperature (℃)", "labelFontSize": 3.6, "labelOverlap": false}},
       "y": {"field": "v", "type": "quantitative", "scale": {"domain": [0,3200], "nice": false}, "axis": {"orient": "left", "values": [0,400,800,1200,1600,2000,2400,2800,3200], "format": "d", "title": "Dielectric constant", "labelOverlap": false}},
       "color": {"field": "fq", "type": "nominal", "title": "0.55BT-0.45NN", "scale": {"domain": ["1 KHz","10 kHz","100 kHz","1 MHz"], "range": ["#0000ff","#ff00ff","#00c8c8","#9c9c30"]}, "legend": {"orient": "none", "legendX": 18, "legendY": 1, "titleOrient": "left", "titleFontSize": 3.3, "titleFontWeight": "bold", "labelFontSize": 3.4, "symbolSize": 6, "rowPadding": 0.5, "titlePadding": 2, "labelOffset": 1.5, "padding": 0}},
       "order": {"field": "r", "type": "quantitative"}
      }},
     {"data": {"values": [{"T": 66, "v": 1050}]}, "mark": {"type": "point", "shape": "circle", "filled": false, "size": 30, "stroke": "#000", "strokeWidth": 0.5, "opacity": 1}, "encoding": {"x": {"field": "T", "type": "quantitative"}, "y": {"field": "v", "type": "quantitative"}}},
     {"data": {"values": [{"T": 44, "v": 800, "s": "←"}]}, "mark": {"type": "text", "fontSize": 5, "color": "#000"}, "encoding": {"x": {"field": "T", "type": "quantitative"}, "y": {"field": "v", "type": "quantitative"}, "text": {"field": "s"}}}
    ]},
    {"layer": [
     {"data": {"name": "t"}, "transform": [{"filter": "datum.p==='C'"}, {"fold": ["e","f","g","h"], "as": ["k","v"]}, {"lookup": "k", "from": {"data": {"name": "fk"}, "key": "k", "fields": ["fq","r"]}}],
      "mark": {"type": "point", "filled": true, "size": 9, "opacity": 1, "strokeWidth": 0},
      "encoding": {
       "x": {"field": "T", "type": "quantitative"},
       "y": {"field": "v", "type": "quantitative", "scale": {"domain": [0,1], "nice": false}, "axis": {"orient": "right", "values": [0,0.2,0.4,0.6,0.8,1], "format": ".1f", "title": "Loss tangent", "labelOverlap": false}},
       "color": {"field": "fq", "type": "nominal", "title": "0.55BT-0.45NN"},
       "order": {"field": "r", "type": "quantitative"}
      }},
     {"data": {"values": [{"T": -4, "v": 0.05}]}, "mark": {"type": "point", "shape": "circle", "filled": false, "size": 30, "stroke": "#000", "strokeWidth": 0.5, "opacity": 1}, "encoding": {"x": {"field": "T", "type": "quantitative"}, "y": {"field": "v", "type": "quantitative"}}},
     {"data": {"values": [{"T": 22, "v": 0.09, "s": "→"}]}, "mark": {"type": "text", "fontSize": 5, "color": "#000"}, "encoding": {"x": {"field": "T", "type": "quantitative"}, "y": {"field": "v", "type": "quantitative"}, "text": {"field": "s"}}}
    ]}
   ]},
  {"width": 74, "height": 57,
   "title": {"text": "D", "anchor": "start", "frame": "group", "dx": -12, "offset": 0},
   "resolve": {"scale": {"y": "independent"}},
   "layer": [
    {"layer": [
     {"data": {"name": "t"}, "transform": [{"filter": "datum.p==='D'"}, {"fold": ["a","b","c","d"], "as": ["k","v"]}, {"lookup": "k", "from": {"data": {"name": "fk"}, "key": "k", "fields": ["fq","r"]}}],
      "mark": {"type": "point", "filled": true, "size": 9, "opacity": 1, "strokeWidth": 0},
      "encoding": {
       "x": {"field": "T", "type": "quantitative", "scale": {"domain": [-150,300], "nice": false}, "axis": {"values": [-150,-100,-50,0,50,100,150,200,250,300], "title": "Temperature (℃)", "labelFontSize": 3.6, "labelOverlap": false}},
       "y": {"field": "v", "type": "quantitative", "scale": {"domain": [0,3200], "nice": false}, "axis": {"orient": "left", "values": [0,400,800,1200,1600,2000,2400,2800,3200], "format": "d", "title": "Dielectric constant", "labelOverlap": false}},
       "color": {"field": "fq", "type": "nominal", "title": "0.50BT-0.50NN", "scale": {"domain": ["1 KHz","10 kHz","100 kHz","1 MHz"], "range": ["#0000ff","#ff00ff","#00c8c8","#9c9c30"]}, "legend": {"orient": "none", "legendX": 18, "legendY": 1, "titleOrient": "left", "titleFontSize": 3.3, "titleFontWeight": "bold", "labelFontSize": 3.4, "symbolSize": 6, "rowPadding": 0.5, "titlePadding": 2, "labelOffset": 1.5, "padding": 0}},
       "order": {"field": "r", "type": "quantitative"}
      }},
     {"data": {"values": [{"T": 75, "v": 900}]}, "mark": {"type": "point", "shape": "circle", "filled": false, "size": 30, "stroke": "#000", "strokeWidth": 0.5, "opacity": 1}, "encoding": {"x": {"field": "T", "type": "quantitative"}, "y": {"field": "v", "type": "quantitative"}}},
     {"data": {"values": [{"T": 50, "v": 700, "s": "←"}]}, "mark": {"type": "text", "fontSize": 5, "color": "#000"}, "encoding": {"x": {"field": "T", "type": "quantitative"}, "y": {"field": "v", "type": "quantitative"}, "text": {"field": "s"}}}
    ]},
    {"layer": [
     {"data": {"name": "t"}, "transform": [{"filter": "datum.p==='D'"}, {"fold": ["e","f","g","h"], "as": ["k","v"]}, {"lookup": "k", "from": {"data": {"name": "fk"}, "key": "k", "fields": ["fq","r"]}}],
      "mark": {"type": "point", "filled": true, "size": 9, "opacity": 1, "strokeWidth": 0},
      "encoding": {
       "x": {"field": "T", "type": "quantitative"},
       "y": {"field": "v", "type": "quantitative", "scale": {"domain": [0,1], "nice": false}, "axis": {"orient": "right", "values": [0,0.2,0.4,0.6,0.8,1], "format": ".1f", "title": "Loss tangent", "labelOverlap": false}},
       "color": {"field": "fq", "type": "nominal", "title": "0.50BT-0.50NN"},
       "order": {"field": "r", "type": "quantitative"}
      }},
     {"data": {"values": [{"T": 10, "v": 0.05}]}, "mark": {"type": "point", "shape": "circle", "filled": false, "size": 30, "stroke": "#000", "strokeWidth": 0.5, "opacity": 1}, "encoding": {"x": {"field": "T", "type": "quantitative"}, "y": {"field": "v", "type": "quantitative"}}},
     {"data": {"values": [{"T": 36, "v": 0.09, "s": "→"}]}, "mark": {"type": "text", "fontSize": 5, "color": "#000"}, "encoding": {"x": {"field": "T", "type": "quantitative"}, "y": {"field": "v", "type": "quantitative"}, "text": {"field": "s"}}}
    ]}
   ]}
 ]
},
{
 "columns": 2,
 "bounds": "flush",
 "spacing": {"row": 19, "column": 24},
 "title": {"text": "Figure 4. Fitting values for (A) 0.65BT-0.35NN, (B) 0.60BT-0.40NN, (C) 0.55BT-0.45NN, and (D) 0.50BT-0.50NN.", "orient": "bottom", "anchor": "start", "frame": "group", "dx": -30, "offset": 16, "fontSize": 4.6, "color": "#555555"},
 "resolve": {"scale": {"fill": "independent", "stroke": "independent"}, "legend": {"fill": "independent", "stroke": "independent"}},
 "concat": [
  {"width": 82, "height": 67,
   "title": {"text": "A", "anchor": "start", "frame": "group", "dx": -17, "dy": 5, "offset": 0},
   "layer": [
    {"data": {"name": "n"}, "transform": [{"filter": "datum.p==='A'"}], "mark": {"type": "point", "filled": true, "size": 12, "opacity": 0.9, "strokeWidth": 0, "shape": "square"},
     "encoding": {
      "x": {"field": "x", "type": "quantitative", "scale": {"domain": [0,7], "nice": false}, "axis": {"values": [0,1,2,3,4,5,6,7], "title": "ln(T-Tₘ)", "labelFontSize": 4.3, "labelOverlap": false}},
      "y": {"field": "y", "type": "quantitative", "scale": {"domain": [-18,-4], "nice": false}, "axis": {"values": [-18,-16,-14,-12,-10,-8,-6,-4], "title": "ln(1/ε−1/εₘ)", "labelFontSize": 4.3, "labelOverlap": false}},
      "fill": {"datum": "0.65BT-0.35NN@1MHz", "scale": {"domain": ["0.65BT-0.35NN@1MHz"], "range": ["#f58a6e"]}, "legend": {"orient": "none", "legendX": 4, "legendY": 1, "title": null, "labelFontSize": 3.4, "symbolSize": 8, "symbolType": "square", "labelOffset": 2, "padding": 0}}
     }},
    {"data": {"name": "fit"}, "transform": [{"filter": "datum.p==='A'"}], "mark": {"type": "line", "strokeWidth": 0.6},
     "encoding": {"x": {"field": "x", "type": "quantitative"}, "y": {"field": "y", "type": "quantitative"},
      "stroke": {"datum": "Fitting γ=1.766 R²=0.998", "scale": {"domain": ["Fitting γ=1.766 R²=0.998"], "range": ["#000000"]}, "legend": {"orient": "none", "legendX": 4, "legendY": 5.5, "title": null, "labelFontSize": 3.4, "symbolSize": 20, "symbolType": "stroke", "symbolStrokeWidth": 0.7, "labelOffset": 2, "padding": 0}}}}
   ]},
  {"width": 81, "height": 67,
   "title": {"text": "B", "anchor": "start", "frame": "group", "dx": -17, "dy": 5, "offset": 0},
   "layer": [
    {"data": {"name": "n"}, "transform": [{"filter": "datum.p==='B'"}], "mark": {"type": "point", "filled": true, "size": 12, "opacity": 0.9, "strokeWidth": 0, "shape": "circle"},
     "encoding": {
      "x": {"field": "x", "type": "quantitative", "scale": {"domain": [0,7], "nice": false}, "axis": {"values": [0,1,2,3,4,5,6,7], "title": "ln(T-Tₘ)", "labelFontSize": 4.3, "labelOverlap": false}},
      "y": {"field": "y", "type": "quantitative", "scale": {"domain": [-18,-4], "nice": false}, "axis": {"values": [-18,-16,-14,-12,-10,-8,-6,-4], "title": "ln(1/ε−1/εₘ)", "labelFontSize": 4.3, "labelOverlap": false}},
      "fill": {"datum": "0.60BT-0.40NN@1MHz", "scale": {"domain": ["0.60BT-0.40NN@1MHz"], "range": ["#35b98a"]}, "legend": {"orient": "none", "legendX": 4, "legendY": 1, "title": null, "labelFontSize": 3.4, "symbolSize": 8, "symbolType": "circle", "labelOffset": 2, "padding": 0}}
     }},
    {"data": {"name": "fit"}, "transform": [{"filter": "datum.p==='B'"}], "mark": {"type": "line", "strokeWidth": 0.6},
     "encoding": {"x": {"field": "x", "type": "quantitative"}, "y": {"field": "y", "type": "quantitative"},
      "stroke": {"datum": "Fitting γ=1.686 R²=0.998", "scale": {"domain": ["Fitting γ=1.686 R²=0.998"], "range": ["#000000"]}, "legend": {"orient": "none", "legendX": 4, "legendY": 5.5, "title": null, "labelFontSize": 3.4, "symbolSize": 20, "symbolType": "stroke", "symbolStrokeWidth": 0.7, "labelOffset": 2, "padding": 0}}}}
   ]},
  {"width": 82, "height": 67,
   "title": {"text": "C", "anchor": "start", "frame": "group", "dx": -17, "dy": 5, "offset": 0},
   "layer": [
    {"data": {"name": "n"}, "transform": [{"filter": "datum.p==='C'"}], "mark": {"type": "point", "filled": true, "size": 12, "opacity": 0.9, "strokeWidth": 0, "shape": "triangle-up"},
     "encoding": {
      "x": {"field": "x", "type": "quantitative", "scale": {"domain": [0,7], "nice": false}, "axis": {"values": [0,1,2,3,4,5,6,7], "title": "ln(T-Tₘ)", "labelFontSize": 4.3, "labelOverlap": false}},
      "y": {"field": "y", "type": "quantitative", "scale": {"domain": [-18,-4], "nice": false}, "axis": {"values": [-18,-16,-14,-12,-10,-8,-6,-4], "title": "ln(1/ε−1/εₘ)", "labelFontSize": 4.3, "labelOverlap": false}},
      "fill": {"datum": "0.55BT-0.45NN@1MHz", "scale": {"domain": ["0.55BT-0.45NN@1MHz"], "range": ["#5a86c8"]}, "legend": {"orient": "none", "legendX": 4, "legendY": 1, "title": null, "labelFontSize": 3.4, "symbolSize": 8, "symbolType": "triangle-up", "labelOffset": 2, "padding": 0}}
     }},
    {"data": {"name": "fit"}, "transform": [{"filter": "datum.p==='C'"}], "mark": {"type": "line", "strokeWidth": 0.6},
     "encoding": {"x": {"field": "x", "type": "quantitative"}, "y": {"field": "y", "type": "quantitative"},
      "stroke": {"datum": "Fitting γ=1.743 R²=0.998", "scale": {"domain": ["Fitting γ=1.743 R²=0.998"], "range": ["#000000"]}, "legend": {"orient": "none", "legendX": 4, "legendY": 5.5, "title": null, "labelFontSize": 3.4, "symbolSize": 20, "symbolType": "stroke", "symbolStrokeWidth": 0.7, "labelOffset": 2, "padding": 0}}}}
   ]},
  {"width": 81, "height": 67,
   "title": {"text": "D", "anchor": "start", "frame": "group", "dx": -17, "dy": 5, "offset": 0},
   "layer": [
    {"data": {"name": "n"}, "transform": [{"filter": "datum.p==='D'"}], "mark": {"type": "point", "filled": true, "size": 12, "opacity": 0.9, "strokeWidth": 0, "shape": "triangle-down"},
     "encoding": {
      "x": {"field": "x", "type": "quantitative", "scale": {"domain": [0,7], "nice": false}, "axis": {"values": [0,1,2,3,4,5,6,7], "title": "ln(T-Tₘ)", "labelFontSize": 4.3, "labelOverlap": false}},
      "y": {"field": "y", "type": "quantitative", "scale": {"domain": [-18,-4], "nice": false}, "axis": {"values": [-18,-16,-14,-12,-10,-8,-6,-4], "title": "ln(1/ε−1/εₘ)", "labelFontSize": 4.3, "labelOverlap": false}},
      "fill": {"datum": "0.50BT-0.50NN@1MHz", "scale": {"domain": ["0.50BT-0.50NN@1MHz"], "range": ["#e58ad3"]}, "legend": {"orient": "none", "legendX": 4, "legendY": 1, "title": null, "labelFontSize": 3.4, "symbolSize": 8, "symbolType": "triangle-down", "labelOffset": 2, "padding": 0}}
     }},
    {"data": {"name": "fit"}, "transform": [{"filter": "datum.p==='D'"}], "mark": {"type": "line", "strokeWidth": 0.6},
     "encoding": {"x": {"field": "x", "type": "quantitative"}, "y": {"field": "y", "type": "quantitative"},
      "stroke": {"datum": "Fitting γ=1.726 R²=0.998", "scale": {"domain": ["Fitting γ=1.726 R²=0.998"], "range": ["#000000"]}, "legend": {"orient": "none", "legendX": 4, "legendY": 5.5, "title": null, "labelFontSize": 3.4, "symbolSize": 20, "symbolType": "stroke", "symbolStrokeWidth": 0.7, "labelOffset": 2, "padding": 0}}}}
   ]}
 ]
}
]
}
